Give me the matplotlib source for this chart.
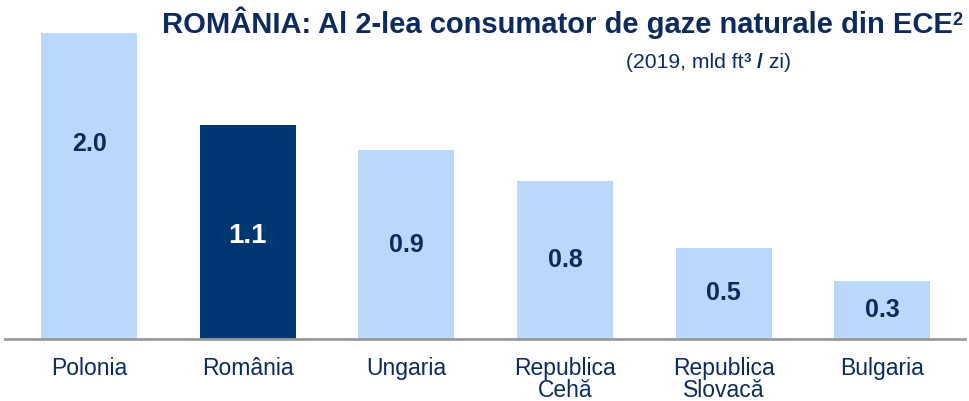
import matplotlib
matplotlib.use("Agg")
import matplotlib.pyplot as plt

countries = ["Polonia", "România", "Ungaria", "Republica\nCehă", "Republica\nSlovacă", "Bulgaria"]
values = [2.0, 1.1, 0.97, 0.81, 0.47, 0.30]
value_labels = ["2.0", "1.1", "0.9", "0.8", "0.5", "0.3"]
highlight = "România"

NAVY = "#0c2a5b"
LIGHT = "#b8d9fc"
DARK = "#003673"

plt.rcParams["font.family"] = ["Liberation Sans", "DejaVu Sans"]

W, H = 970, 401
fig = plt.figure(figsize=(9.7, 4.01), dpi=100)
ax = fig.add_axes([5 / W, 1 - 339 / H, 960 / W, 306 / H])

x = list(range(len(countries)))
colors = [DARK if c == highlight else LIGHT for c in countries]
ax.bar(x, values, width=0.605, color=colors, zorder=2)
ax.set_xlim(-0.53, 5.52)
ax.set_ylim(0, 1.573)

for xi, v, lab, c in zip(x, values, value_labels, countries):
    if c == highlight:
        ax.text(xi, v / 2 - 0.02, lab, ha="center", va="center", color="white",
                fontsize=20, fontweight="bold")
    else:
        ax.text(xi, v / 2, lab, ha="center", va="center", color=NAVY,
                fontsize=18, fontweight="bold")

for s in ["top", "right", "left"]:
    ax.spines[s].set_visible(False)
ax.spines["bottom"].set_color("#9a9a9a")
ax.spines["bottom"].set_linewidth(2)
ax.set_yticks([])
ax.set_xticks(x)
ax.set_xticklabels(countries, fontsize=16.5, color=NAVY, linespacing=0.95)
ax.tick_params(axis="x", length=0, pad=13)

renderer = fig.canvas.get_renderer()


def place_pieces(x0, y0, pieces):
    """pieces: list of (text, fontsize, weight, dy_px) placed left to right from pixel x0, baseline y0"""
    cx = x0
    for txt, fs, wt, dy in pieces:
        t = fig.text(cx / W, 1 - (y0 - dy) / H, txt, ha="left", va="baseline",
                     fontsize=fs, fontweight=wt, color=NAVY)
        bb = t.get_window_extent(renderer)
        cx += bb.width


place_pieces(162, 33, [
    ("ROMÂNIA: Al 2-lea consumator de gaze naturale din ECE", 21, "bold", 0),
    ("2", 13, "bold", 8),
])
place_pieces(626, 68, [
    ("(2019, mld ft", 15.2, "normal", 0),
    ("3", 9.5, "bold", 6),
    (" ", 15.2, "normal", 0),
    ("/", 15.2, "bold", 0),
    (" zi)", 15.2, "normal", 0),
])

fig.savefig("out.png", dpi=100)
